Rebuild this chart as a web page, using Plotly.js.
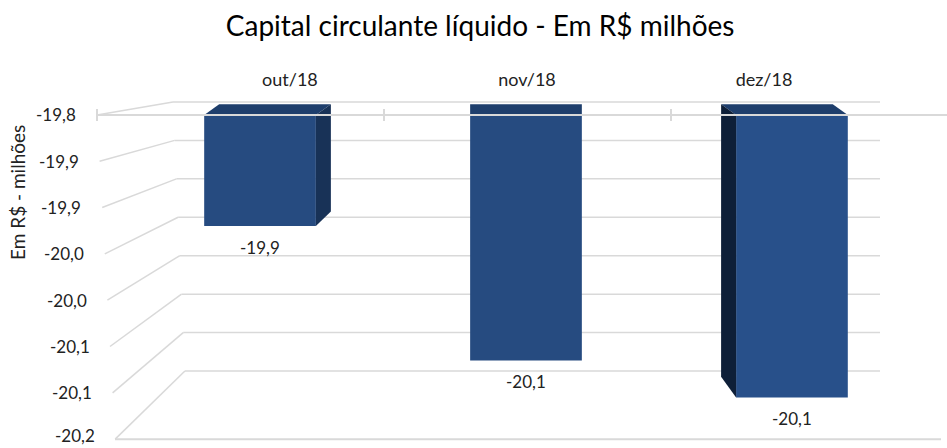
<!DOCTYPE html>
<html><head><meta charset="utf-8">
<script src="https://cdn.plot.ly/plotly-3.0.1.min.js"></script>
<style>html,body{margin:0;padding:0;background:#fff}#chart{width:947px;height:448px}</style>
</head><body><div id="chart"></div>
<script>
// ---- data ----
const categories = ['out/18', 'nov/18', 'dez/18'];
const values = [-19.92, -20.065, -20.105];
const tickValues = [-19.80, -19.85, -19.90, -19.95, -20.00, -20.05, -20.10, -20.15];
const tickLabels = ['-19,8', '-19,9', '-19,9', '-20,0', '-20,0', '-20,1', '-20,1', '-20,2'];
const baseline = -19.80;
const chartTitle = 'Capital circulante líquido - Em R$ milhões';
const yTitle = 'Em R$ - milhões';

// ---- style / geometry ----
const FONT = 'Lato, "Open Sans", sans-serif';
const TXT = '#222222';
const GRID = '#d9d9d9';
const PLOT_W = 850;           // plot width in px (left margin 97)
const BAR_W = 0.42;
const FRONT = ['#264b80', '#264b80', '#28508a'], TOP = '#1e3e6c', SIDE_R = '#183257', SIDE_L = '#0e1f38';
const sideDx = [15 / 266, 0, -15 / 266];
const backY = v => baseline + 0.014 + (v - baseline) * 0.83;     // back wall
const midY = v => v + 0.0085 + 0.21 * (backY(v) - v);             // bar back edge

const labels = values.map(v => v.toFixed(1).replace('.', ','));
const xs = categories.map((c, i) => i);

const shapes = [];
// perspective grid (back wall + diagonals)
tickValues.forEach((v, k) => {
  const fx = (k * 2.6) / PLOT_W, bx = (76 + k * 1.7) / PLOT_W;
  shapes.push({type: 'line', xref: 'paper', yref: 'y', x0: fx, x1: bx, y0: v, y1: backY(v),
    line: {color: GRID, width: 1.5}, layer: 'below'});
  shapes.push({type: 'line', xref: 'paper', yref: 'y', x0: bx, x1: 783 / PLOT_W, y0: backY(v), y1: backY(v),
    line: {color: GRID, width: 1.5}, layer: 'below'});
});
// floor front edge
shapes.push({type: 'line', xref: 'paper', yref: 'y', x0: 18 / PLOT_W, x1: 844 / PLOT_W,
  y0: tickValues[tickValues.length - 1], y1: tickValues[tickValues.length - 1],
  line: {color: GRID, width: 2}, layer: 'below'});

// bar top / side faces
xs.forEach((x, i) => {
  const v = values[i], dx = sideDx[i], l = x - BAR_W / 2, r = x + BAR_W / 2;
  shapes.push({type: 'path', xref: 'x', yref: 'y', layer: 'above', line: {width: 0}, fillcolor: TOP,
    path: `M${l},${baseline} L${r},${baseline} L${r + dx},${midY(baseline)} L${l + dx},${midY(baseline)} Z`});
  if (dx > 0) {
    shapes.push({type: 'path', xref: 'x', yref: 'y', layer: 'above', line: {width: 0}, fillcolor: SIDE_R,
      path: `M${r},${baseline} L${r + dx},${midY(baseline)} L${r + dx},${midY(v)} L${r},${v} Z`});
  } else if (dx < 0) {
    shapes.push({type: 'path', xref: 'x', yref: 'y', layer: 'above', line: {width: 0}, fillcolor: SIDE_L,
      path: `M${l},${baseline} L${l + dx},${midY(baseline)} L${l + dx},${midY(v)} L${l},${v} Z`});
  }
});
// category axis line (front) with tick marks, drawn over the bars
shapes.push({type: 'line', xref: 'paper', yref: 'y', x0: 0, x1: 1, y0: baseline, y1: baseline,
  line: {color: GRID, width: 2}, layer: 'above'});
categories.forEach((c, i) => {
  const px = (i * 287) / PLOT_W;
  shapes.push({type: 'line', xref: 'paper', yref: 'y', x0: px, x1: px, y0: baseline + 0.0065, y1: baseline - 0.0065,
    line: {color: GRID, width: 2}, layer: 'above'});
});

const annotations = [];
tickValues.forEach((v, k) => {
  annotations.push({xref: 'paper', yref: 'y', x: 0, y: v, xanchor: 'right', yanchor: 'middle',
    xshift: -19 + 2.7 * k, yshift: k === tickValues.length - 1 ? 4 : 0,
    text: tickLabels[k], showarrow: false, font: {family: FONT, size: 17, color: TXT}});
});
xs.forEach((x, i) => {
  annotations.push({xref: 'x', yref: 'y', x: x, y: values[i], xanchor: 'center', yanchor: 'top', yshift: -9,
    text: labels[i], showarrow: false, font: {family: FONT, size: 17, color: TXT}});
});
annotations.push({xref: 'paper', yref: 'paper', x: 0, y: 0.717, xshift: -79, textangle: -90,
  xanchor: 'center', yanchor: 'middle',
  text: yTitle, showarrow: false, font: {family: FONT, size: 19, color: TXT}});

const traces = [
  {type: 'bar', x: xs, y: values.map(v => v - baseline), base: baseline, width: BAR_W,
   marker: {color: FRONT, line: {width: 0}}, hoverinfo: 'skip', showlegend: false, xaxis: 'x', yaxis: 'y'},
  {type: 'scatter', mode: 'markers', x: categories, y: values, marker: {opacity: 0},
   hoverinfo: 'skip', showlegend: false, xaxis: 'x2', yaxis: 'y'}
];

const layout = {
  width: 947, height: 448,
  margin: {l: 97, r: 0, t: 95, b: 7},
  paper_bgcolor: '#ffffff', plot_bgcolor: '#ffffff',
  title: {text: chartTitle, font: {family: FONT, size: 28, color: '#000000'},
    xref: 'container', yref: 'container', x: 0.507, y: 0.942, xanchor: 'center', yanchor: 'middle'},
  xaxis: {type: 'linear', range: [-0.613, 2.583], showgrid: false, zeroline: false, showline: false,
    showticklabels: false, ticks: '', fixedrange: true},
  xaxis2: {type: 'category', overlaying: 'x', side: 'top', anchor: 'y', range: [-0.814, 2.772],
    showgrid: false, zeroline: false, showline: false, ticks: '', ticklabelstandoff: 4,
    tickfont: {family: FONT, size: 18, color: TXT}, fixedrange: true},
  yaxis: {range: [-20.152, -19.7785], showgrid: false, zeroline: false, showline: false,
    showticklabels: false, ticks: '', fixedrange: true},
  shapes: shapes,
  annotations: annotations,
  showlegend: false
};

Plotly.newPlot('chart', traces, layout, {displayModeBar: false, staticPlot: true});
</script>
</body></html>
